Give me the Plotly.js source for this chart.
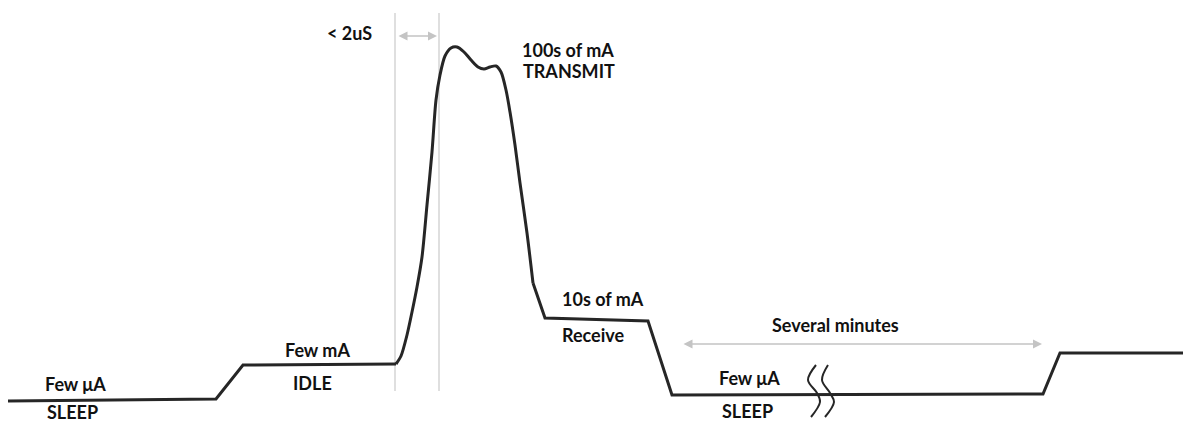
<!DOCTYPE html>
<html>
<head>
<meta charset="utf-8">
<script src="https://cdn.plot.ly/plotly-3.0.1.min.js"></script>
<style>html,body{margin:0;padding:0;background:#fff;}#chart{width:1183px;height:424px;}</style>
</head>
<body>
<div id="chart"></div>
<script>
// Waveform (x = time position, y = current level, screen units)
const idleX = [8, 216, 243, 396];
const idleY = [401, 399, 365, 364];
const peakX = [396, 401, 407, 412, 417, 422, 427, 432, 436, 440, 445, 451, 457, 464, 471, 478, 484, 490, 496, 501, 506, 510, 515, 520, 527, 533];
const peakY = [364, 356, 335, 312, 287, 257, 205, 152, 100, 75, 56, 48, 47, 52, 60, 67, 69, 67, 66, 72, 90, 112, 145, 183, 233, 283];
const tailX = [533, 545, 648, 672, 1043, 1060, 1183];
const tailY = [283, 318, 321, 395, 394, 353, 353];

// Break marks
const break1X = [816, 808, 817, 820, 811];
const break2X = [828, 822, 830, 834, 825];
const breakY = [365, 380, 393, 402, 417];

// Guide lines
const guideX = [395, 439];
const guideTop = 13;
const guideBottom = 391;

// Dimension arrows
const arrow2uS = {x0: 397, x1: 437, y: 36};
const arrowMinutes = {x0: 682, x1: 1042, y: 344};

// Labels
const labels = [
  {text: "< 2uS", x: 325, y: 33},
  {text: "100s of mA", x: 520, y: 50},
  {text: "TRANSMIT", x: 521, y: 71},
  {text: "10s of mA", x: 560, y: 299},
  {text: "Receive", x: 560, y: 335},
  {text: "Few mA", x: 283, y: 350},
  {text: "IDLE", x: 291, y: 383},
  {text: "Few \u03bcA", x: 43, y: 384},
  {text: "SLEEP", x: 45, y: 412},
  {text: "Few \u03bcA", x: 717, y: 378},
  {text: "SLEEP", x: 720, y: 411},
  {text: "Several minutes", x: 770, y: 325}
];

const black = '#262626';
const gray = '#d4d4d4';
const arrowGray = '#c4c4c4';

const traces = [];
guideX.forEach(gx => traces.push({x: [gx, gx], y: [guideTop, guideBottom], mode: 'lines', line: {color: gray, width: 1.5}, hoverinfo: 'skip'}));
traces.push({x: idleX, y: idleY, mode: 'lines', line: {color: black, width: 3}, hoverinfo: 'skip'});
traces.push({x: peakX, y: peakY, mode: 'lines', line: {color: black, width: 3, shape: 'spline', smoothing: 0.8}, hoverinfo: 'skip'});
traces.push({x: tailX, y: tailY, mode: 'lines', line: {color: black, width: 3}, hoverinfo: 'skip'});
traces.push({x: break1X, y: breakY, mode: 'lines', line: {color: black, width: 2, shape: 'spline', smoothing: 1}, hoverinfo: 'skip'});
traces.push({x: break2X, y: breakY, mode: 'lines', line: {color: black, width: 2, shape: 'spline', smoothing: 1}, hoverinfo: 'skip'});

const annotations = labels.map(l => ({
  text: l.text, x: l.x, y: l.y, xref: 'x', yref: 'y', xanchor: 'left', yanchor: 'middle',
  showarrow: false, font: {family: 'Lato, "Open Sans", sans-serif', size: 18, color: '#111', weight: 'bold'}
}));
[arrow2uS, arrowMinutes].forEach(a => annotations.push({
  x: a.x1, y: a.y, ax: a.x0, ay: a.y, xref: 'x', yref: 'y', axref: 'x', ayref: 'y',
  text: '', showarrow: true, arrowside: 'end+start', arrowhead: 2, arrowsize: 1.2, arrowwidth: 1.5, arrowcolor: arrowGray
}));

const layout = {
  width: 1183, height: 424,
  margin: {l: 0, r: 0, t: 0, b: 0},
  paper_bgcolor: '#fff', plot_bgcolor: '#fff',
  showlegend: false,
  xaxis: {range: [0, 1183], visible: false, fixedrange: true},
  yaxis: {range: [424, 0], visible: false, fixedrange: true},
  annotations: annotations
};
Plotly.newPlot('chart', traces, layout, {displayModeBar: false, staticPlot: true});
</script>
</body>
</html>
